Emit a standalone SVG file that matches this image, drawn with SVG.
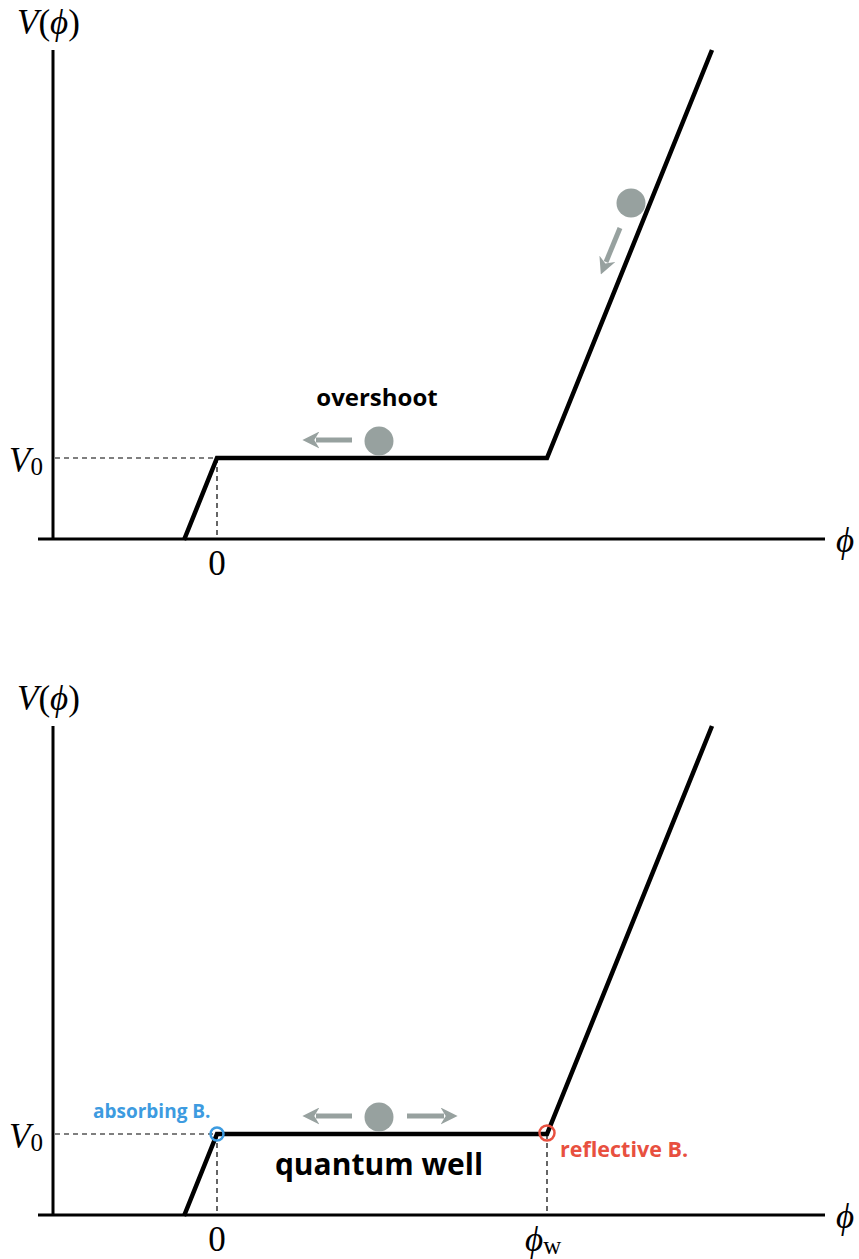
<svg xmlns="http://www.w3.org/2000/svg" width="859" height="1259" viewBox="0 0 859 1259">
<defs>
<style>
.axis{stroke:#000;stroke-width:3;fill:none}
.pot{stroke:#000;stroke-width:4.5;fill:none;stroke-linejoin:miter}
.dash{stroke:#000;stroke-width:1.2;stroke-dasharray:5,4;fill:none}
.ball{fill:#97a19f}
.arr{stroke:#97a19f;stroke-width:5;fill:none}
.math{font-family:"Liberation Serif",serif;font-size:35px;fill:#000}
.lbl{font-family:"Open Sans",Lato,sans-serif;font-weight:bold}
</style>
<marker id="ah" viewBox="0 0 10 10" refX="2" refY="5" markerWidth="3.4" markerHeight="3.4" orient="auto" markerUnits="strokeWidth">
<path d="M0,0 L10,5 L0,10 L3,5 Z" fill="#97a19f"/>
</marker>
</defs>

<g id="top-panel">
<g id="top-axes">
<line class="axis" x1="53" y1="50" x2="53" y2="540"/>
<line class="axis" x1="38" y1="539" x2="825" y2="539"/>
<text class="math" x="17" y="34" font-size="37"><tspan font-style="italic">V</tspan>(<tspan font-style="italic">ϕ</tspan>)</text>
<text class="math" x="836" y="552" font-style="italic">ϕ</text>
<text class="math" x="9" y="472"><tspan font-style="italic">V</tspan><tspan font-size="25" dy="3">0</tspan></text>
<text class="math" x="217" y="575" text-anchor="middle">0</text>
</g>
<g id="top-dashes">
<line class="dash" x1="55" y1="458" x2="217" y2="458"/>
<line class="dash" x1="217" y1="458" x2="217" y2="539"/>
</g>
<g id="top-potential">
<polyline class="pot" points="184,540 217,458 547,458 712,50"/>
</g>
<g id="top-balls">
<circle class="ball" cx="379" cy="441" r="14.5"/>
<circle class="ball" cx="631" cy="203" r="14.5"/>
<text class="lbl" x="377" y="406" font-size="24" text-anchor="middle">overshoot</text>
</g>
</g>

<g id="bottom-panel">
<g id="bottom-axes">
<line class="axis" x1="53" y1="726" x2="53" y2="1216"/>
<line class="axis" x1="38" y1="1215" x2="825" y2="1215"/>
<text class="math" x="17" y="710" font-size="37"><tspan font-style="italic">V</tspan>(<tspan font-style="italic">ϕ</tspan>)</text>
<text class="math" x="836" y="1228" font-style="italic">ϕ</text>
<text class="math" x="9" y="1148"><tspan font-style="italic">V</tspan><tspan font-size="25" dy="3">0</tspan></text>
<text class="math" x="217" y="1251" text-anchor="middle">0</text>
<text class="math" x="525" y="1251"><tspan font-style="italic">ϕ</tspan><tspan font-size="25" dy="3">w</tspan></text>
</g>
<g id="bottom-dashes">
<line class="dash" x1="55" y1="1134" x2="217" y2="1134"/>
<line class="dash" x1="217" y1="1134" x2="217" y2="1215"/>
<line class="dash" x1="547" y1="1134" x2="547" y2="1215"/>
</g>
<g id="bottom-potential">
<polyline class="pot" points="184,1216 217,1134 547,1134 712,726"/>
</g>
<g id="absorbing">
<circle cx="217" cy="1134" r="6.5" fill="none" stroke="#3d9be0" stroke-width="2.5"/>
<text class="lbl" x="93" y="1118" font-size="19" fill="#3d9be0">absorbing B.</text>
</g>
<g id="reflective">
<circle cx="547" cy="1133" r="7.5" fill="none" stroke="#e8503f" stroke-width="2.5"/>
<text class="lbl" x="560" y="1157" font-size="21.5" fill="#e8503f">reflective B.</text>
</g>
<g id="well">
<circle class="ball" cx="379" cy="1117" r="14.5"/>
<text class="lbl" x="379" y="1175" font-size="30" text-anchor="middle">quantum well</text>
</g>
</g>

<g id="connectors">
<line class="arr" x1="352" y1="440" x2="316" y2="440" marker-end="url(#ah)"/>
<line class="arr" x1="620" y1="228" x2="606" y2="262" marker-end="url(#ah)"/>
<line class="arr" x1="352" y1="1116" x2="316" y2="1116" marker-end="url(#ah)"/>
<line class="arr" x1="407" y1="1116" x2="444" y2="1116" marker-end="url(#ah)"/>
</g>
</svg>
